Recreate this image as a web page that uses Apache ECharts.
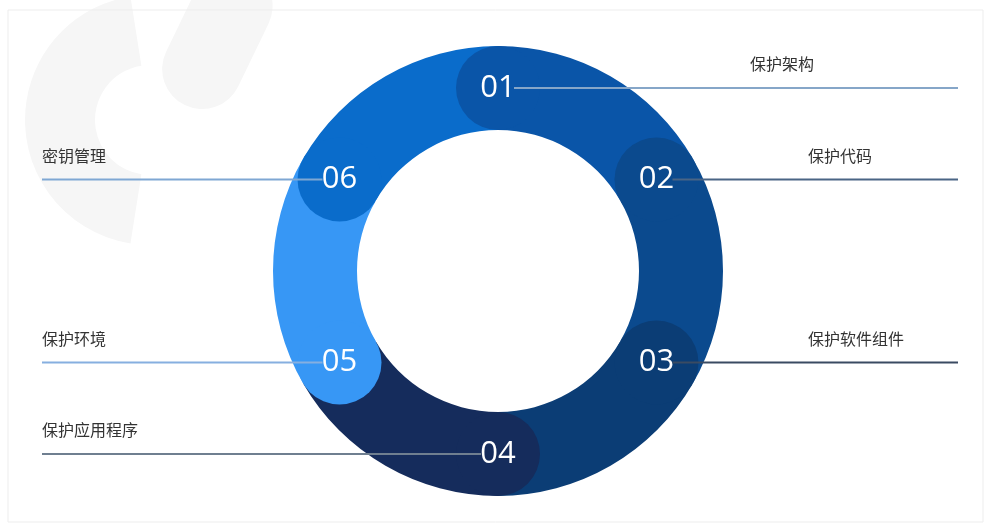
<!DOCTYPE html>
<html style="height:100%">
<head>
  <meta charset="UTF-8">
  <title>保护 - 环形步骤图</title>
  <script src="https://cdn.jsdelivr.net/npm/echarts@6/dist/echarts.min.js"></script>
  <style>
    html, body { margin: 0; padding: 0; background: #fff; }
    #chart { width: 987px; height: 527px; }
  </style>
</head>
<body>
<div id="chart"></div>
<script>
  // --- data ---
  var categories = ['保护架构', '保护代码', '保护软件组件', '保护应用程序', '保护环境', '密钥管理'];
  var numbers    = ['01', '02', '03', '04', '05', '06'];
  var values     = [1, 1, 1, 1, 1, 1];   // six equal steps
  var sides      = ['right', 'right', 'right', 'left', 'left', 'left'];

  // --- styles / layout ---
  var colors     = ['#0a55a8', '#0b4a8e', '#0b3d75', '#152c5c', '#3797f5', '#0a6ccb'];
  var lineColors = ['#86a6c8', '#4a6585', '#3a4b62', '#6f7f90', '#86afe0', '#7fa7d3'];
  var textX      = [782, 840, 856, 42, 42, 42];
  var center = [498, 271];
  var rIn = 141, rOut = 225;
  var rMid = (rIn + rOut) / 2;

  var total = values.reduce(function (a, b) { return a + b; }, 0);

  // circle caps sit on the start of every segment
  var capData = [];
  var acc = 0;
  values.forEach(function (v, i) {
    capData.push({
      value: [rMid, acc],
      itemStyle: { color: colors[i], opacity: 1 },
      label: { formatter: numbers[i] }
    });
    acc += v;
  });

  var chart = echarts.init(document.getElementById('chart'));

  chart.setOption({
    animation: false,
    polar: { center: center, radius: rOut },
    radiusAxis: { type: 'value', min: 0, max: rOut, show: false },
    angleAxis: { type: 'value', min: 0, max: total, startAngle: 90, clockwise: true, show: false },
    series: [
      {
        type: 'pie',
        center: center,
        radius: [rIn, rOut],
        startAngle: 90,
        clockwise: true,
        silent: true,
        label: { show: false },
        labelLine: { show: false },
        data: values.map(function (v, i) {
          return { name: categories[i], value: v, itemStyle: { color: colors[i] } };
        })
      },
      {
        type: 'scatter',
        coordinateSystem: 'polar',
        symbol: 'circle',
        symbolSize: rOut - rIn,
        silent: true,
        itemStyle: { opacity: 1 },
        label: { show: true, color: '#fff', fontSize: 31, fontFamily: 'Open Sans' },
        data: capData
      }
    ]
  });

  // leader lines and captions, placed from the cap positions
  var graphics = [
    {
      type: 'rect', silent: true, z: -1,
      shape: { x: 8, y: 10, width: 975, height: 512 },
      style: { fill: 'none', stroke: '#ededed', lineWidth: 1 }
    },
    // faint watermark, top-left
    {
      type: 'sector', silent: true, z: -2,
      shape: { cx: 150, cy: 120, r0: 55, r: 125, startAngle: Math.PI * 0.55, endAngle: Math.PI * 1.45 },
      style: { fill: '#f6f6f6' }
    },
    {
      type: 'rect', silent: true, z: -2, x: 250, y: -30, rotation: -0.45,
      shape: { x: -40, y: 0, width: 80, height: 150, r: 40 },
      style: { fill: '#f6f6f6' }
    }
  ];
  acc = 0;
  values.forEach(function (v, i) {
    var p = chart.convertToPixel({ seriesIndex: 1 }, [rMid, acc]);
    acc += v;
    var x1, x2;
    if (sides[i] === 'right') { x1 = p[0] + 16; x2 = 958; }
    else { x1 = 42; x2 = p[0] - 17; }
    graphics.push({
      type: 'line', silent: true, z: 5,
      shape: { x1: x1, y1: p[1], x2: x2, y2: p[1] },
      style: { stroke: lineColors[i], lineWidth: 2 }
    });
    graphics.push({
      type: 'text', silent: true, z: 5,
      x: textX[i], y: p[1] - 24,
      style: {
        text: categories[i],
        fill: '#333',
        font: '16px "Noto Sans CJK SC"',
        textAlign: sides[i] === 'right' ? 'center' : 'left',
        textVerticalAlign: 'middle'
      }
    });
  });
  chart.setOption({ graphic: graphics });
</script>
</body>
</html>
